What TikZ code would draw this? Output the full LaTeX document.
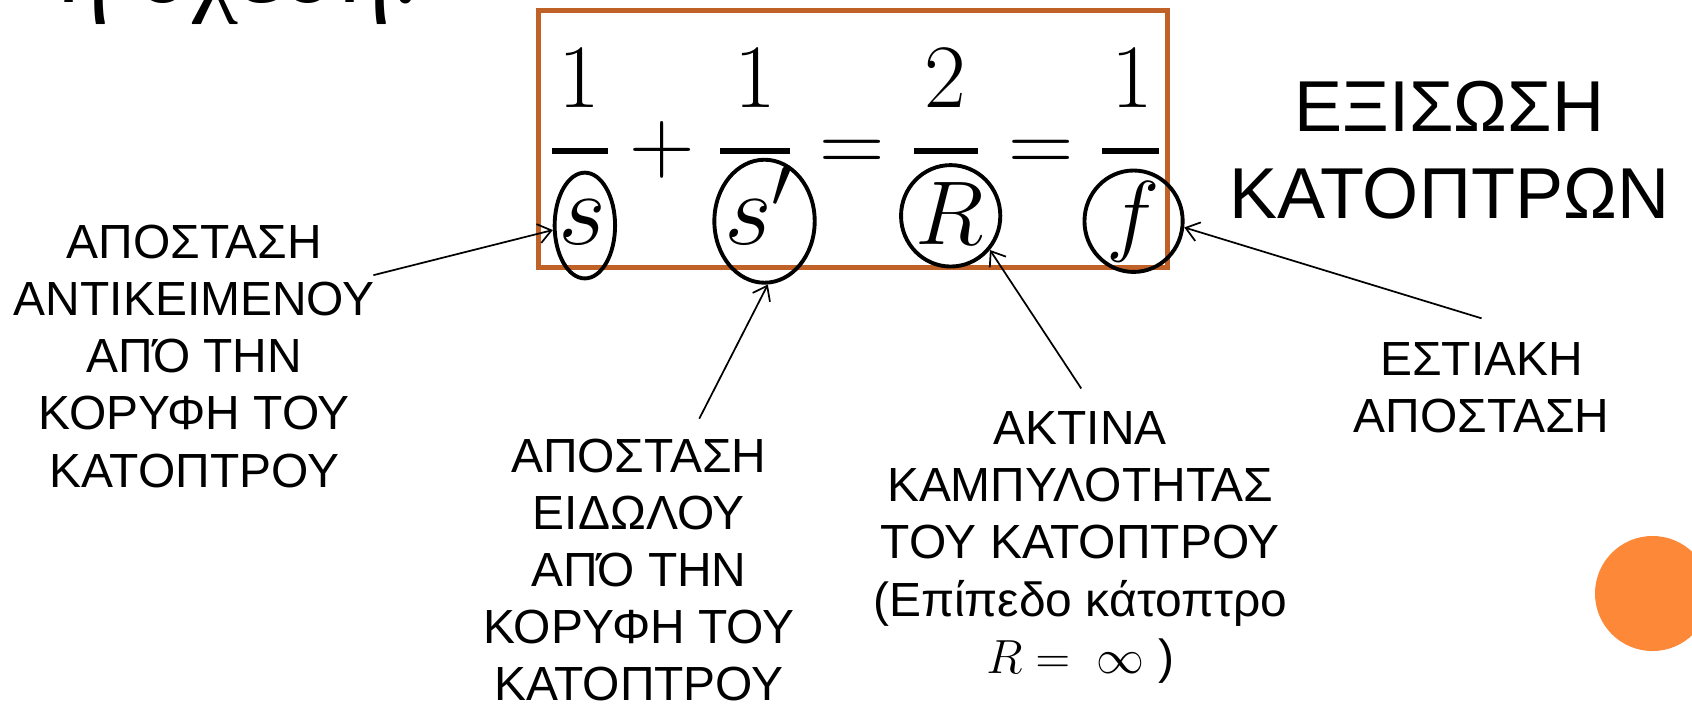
\RequirePackage{fix-cm}
\documentclass[tikz,border=0pt]{standalone}
\usepackage[no-math]{fontspec}
\setmainfont{Liberation Sans}
\newfontfamily\serifgr{Liberation Serif}
\usetikzlibrary{shapes.geometric,arrows.meta}
\definecolor{boxor}{RGB}{192,98,40}
\definecolor{dotor}{RGB}{253,136,56}
\tikzset{
  lbl/.style={font=\fontsize{22.2}{26.5}\selectfont, align=center, inner sep=0pt, anchor=north},
  mth/.style={font=\fontsize{42}{50}\selectfont, inner sep=0pt, anchor=base},
  mthb/.style={font=\fontsize{48}{56}\selectfont, inner sep=0pt, anchor=base},
  fbar/.style={line width=2.5pt},
  ring/.style={ellipse, draw, line width=1.8pt, inner sep=0pt},
  arr/.style={-{Straight Barb[length=6pt,width=9pt]}, line width=0.8pt},
}
\begin{document}
\begin{tikzpicture}[x=0.5pt,y=-0.5pt]
\useasboundingbox (0,0) rectangle (1568,655.2);
\clip (0,0) rectangle (1568,655.2);

% cut-off heading at the top left
\node[font=\serifgr\fontsize{48}{56}\selectfont, anchor=base west, inner sep=0pt] (top) at (52,2) {η σχέση:};

% frame
\draw[boxor, line width=2.3pt] (499,9.5) rectangle (1082,248);

% numerators
\node[mth] (n1) at (537,100) {$1$};
\node[mth] (n2) at (700,100) {$1$};
\node[mth] (n3) at (876,100) {$2$};
\node[mth] (n4) at (1049,100) {$1$};
% bars
\draw[fbar] (512,140) -- (563,140);
\draw[fbar] (667,140) -- (732,140);
\draw[fbar] (847,140) -- (906,140);
\draw[fbar] (1021,140) -- (1074,140);
% operators
\node[mth] (plus) at (614,160) {$+$};
\node[mth] (eq1) at (790,160) {$=$};
\node[mth] (eq2) at (965,160) {$=$};
% denominators
\node[mthb] (d1) at (540,227) {$s$};
\node[mthb] (d2) at (703,227) {$s'$};
\node[mth] (d3) at (880,227) {$R$};
\node[mth] (d4) at (1050,227) {$f$};

% rings
\node[ring, minimum width=28pt, minimum height=49pt] (es) at (542,209) {};
\node[ring, minimum width=46.5pt, minimum height=57pt] (es2) at (708.5,205) {};
\node[ring, minimum width=46pt, minimum height=47pt] (eR) at (881,200) {};
\node[ring, minimum width=45.5pt, minimum height=47pt] (ef) at (1050.5,205) {};

% title
\node[font=\fontsize{33.4}{40}\selectfont, align=center, inner sep=0pt, anchor=north] (title) at (1343,75) {ΕΞΙΣΩΣΗ\\ΚΑΤΟΠΤΡΩΝ};

% labels
\node[lbl] (lobj) at (180,208) {ΑΠΟΣΤΑΣΗ\\ΑΝΤΙΚΕΙΜΕΝΟΥ\\ΑΠΌ ΤΗΝ\\ΚΟΡΥΦΗ ΤΟΥ\\ΚΑΤΟΠΤΡΟΥ};
\node[lbl] (limg) at (592,406) {ΑΠΟΣΤΑΣΗ\\ΕΙΔΩΛΟΥ\\ΑΠΌ ΤΗΝ\\ΚΟΡΥΦΗ ΤΟΥ\\ΚΑΤΟΠΤΡΟΥ};
\node[lbl] (lrad) at (1001,381) {ΑΚΤΙΝΑ\\ΚΑΜΠΥΛΟΤΗΤΑΣ\\ΤΟΥ ΚΑΤΟΠΤΡΟΥ\\(Επίπεδο κάτοπτρο\\$R=\;\infty$\ )};
\node[lbl] (lfoc) at (1373,317) {ΕΣΤΙΑΚΗ\\ΑΠΟΣΤΑΣΗ};

% arrows
\coordinate (s1) at (346,255);
\coordinate (s2) at (648,388);
\coordinate (s3) at (1002,360);
\coordinate (s4) at (1373,295);
\draw[arr] (s1) -- (es.188);
\draw[arr] (s2) -- (es2.-87);
\draw[arr] (s3) -- (eR.-41);
\draw[arr] (s4) -- (ef.-7);

% orange dot
\node[circle, fill=dotor, minimum size=53.3pt, inner sep=0pt] (dot) at (1531.4,550) {};
\end{tikzpicture}
\end{document}
